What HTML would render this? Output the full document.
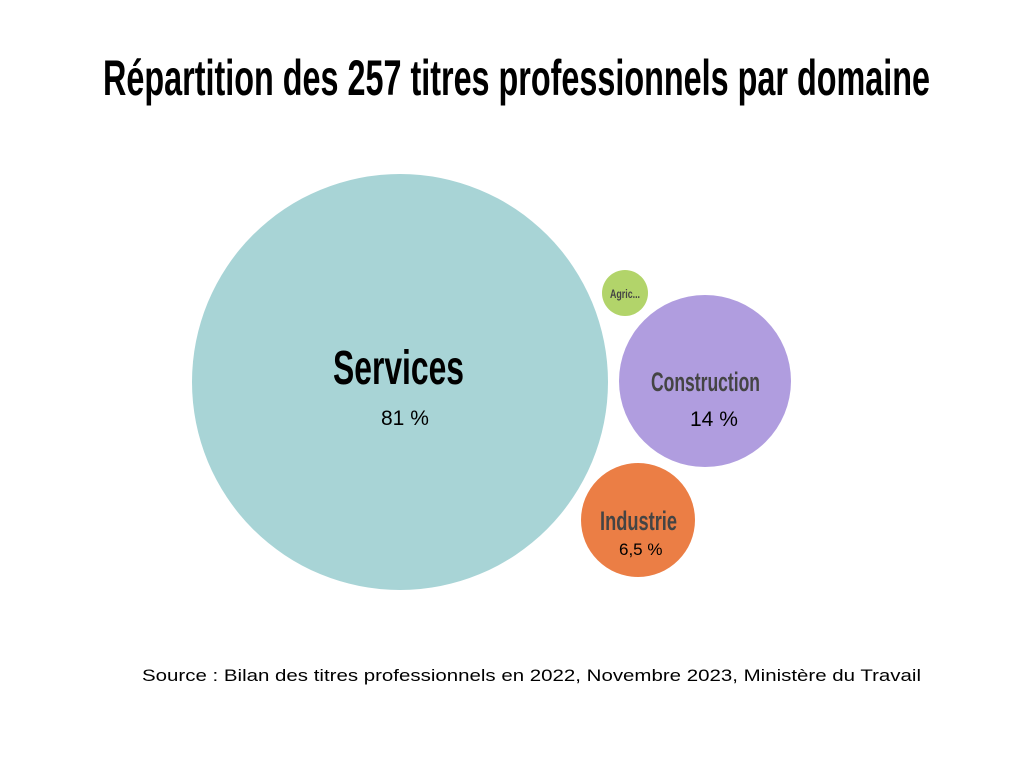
<!DOCTYPE html>
<html><head><meta charset="utf-8"><style>
html,body{margin:0;padding:0;background:#fff;}
svg{display:block;}
.c{font-family:"Liberation Sans Narrow","Liberation Sans",sans-serif;font-weight:bold;}
.n{font-family:"Liberation Sans",sans-serif;}
</style></head><body>
<svg width="1024" height="768" viewBox="0 0 1024 768" xmlns="http://www.w3.org/2000/svg">
<rect width="1024" height="768" fill="#fff"/>
<text class="c" x="103" y="95" font-size="50" fill="#000" textLength="827" lengthAdjust="spacingAndGlyphs">Répartition des 257 titres professionnels par domaine</text>
<circle cx="400" cy="382" r="208" fill="#a8d4d6"/>
<circle cx="705" cy="381" r="86" fill="#b09ddf"/>
<circle cx="638" cy="520" r="57" fill="#eb7e45"/>
<circle cx="625" cy="293" r="23" fill="#b2d46a"/>
<text class="c" x="333" y="384" font-size="48" fill="#000" textLength="131" lengthAdjust="spacingAndGlyphs">Services</text>
<text class="n" x="381" y="425" font-size="21" fill="#000">81 %</text>
<text class="c" x="651" y="391" font-size="27" fill="#444" textLength="109" lengthAdjust="spacingAndGlyphs">Construction</text>
<text class="n" x="690" y="426" font-size="21" fill="#000">14 %</text>
<text class="c" x="600" y="530" font-size="27" fill="#444" textLength="77" lengthAdjust="spacingAndGlyphs">Industrie</text>
<text class="n" x="619" y="555" font-size="17" fill="#000">6,5 %</text>
<text class="c" x="610" y="298" font-size="12" fill="#444" textLength="30" lengthAdjust="spacingAndGlyphs">Agric...</text>
<text class="n" x="142" y="681" font-size="17" fill="#000" textLength="779" lengthAdjust="spacingAndGlyphs">Source : Bilan des titres professionnels en 2022, Novembre 2023, Ministère du Travail</text>
</svg>
</body></html>
